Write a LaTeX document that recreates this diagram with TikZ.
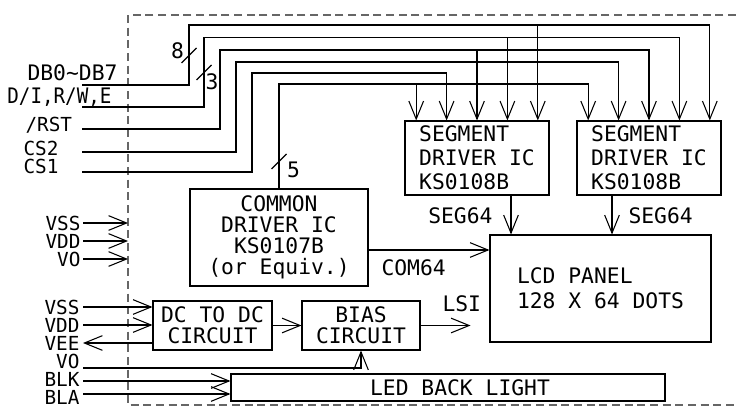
\documentclass[tikz,border=0pt]{standalone}
\usepackage{fontspec}
\setmonofont{DejaVu Sans Mono}
\usetikzlibrary{arrows.meta,calc}

\begin{document}
\begin{tikzpicture}[
  x=0.75pt, y=-0.75pt,
  font=\ttfamily\fontsize{16}{18}\selectfont,
  line width=0.8pt,
  blk/.style={draw, inner sep=0pt, align=center},
  segbox/.style={blk, align=left, minimum width=108pt, minimum height=55.5pt},
  tight/.style={font=\ttfamily\fontsize{16}{15.6}\selectfont},
  sig/.style={-{Straight Barb[length=13.5pt, width=11pt]}},
  lab/.style={inner sep=0pt},
  pwr/.style={lab, font=\ttfamily\fontsize{14.5}{15}\selectfont},
  module/.style={black!60, dash pattern=on 6pt off 3.5pt},
]
\useasboundingbox (0,0) rectangle (736,407);
\draw[module] (736,15) -- (128,15) -- (128,405) -- (736,405);
\coordinate (mod) at (128,15);
% blocks
\node[segbox] (segl) at (477,158) {SEGMENT\\DRIVER IC\\KS0108B};
\node[segbox] (segr) at (649,158) {SEGMENT\\DRIVER IC\\KS0108B};
\node[blk, align=left, minimum width=165.75pt, minimum height=80.25pt] (lcd) at (600.5,288.5) {LCD PANEL\\[0.5pt]128 X 64 DOTS};
\node[blk, tight, minimum width=133.5pt, minimum height=72.75pt] (common) at (279,237.5) {COMMON\\DRIVER IC\\KS0107B\\(or Equiv.)};
\node[blk, tight, minimum width=89.25pt, minimum height=36.75pt] (dc) at (212.5,325.5) {DC TO DC\\CIRCUIT};
\node[blk, tight, minimum width=88.5pt, minimum height=36.75pt] (bias) at (361,325.5) {BIAS\\CIRCUIT};
\node[blk, minimum width=325.5pt, minimum height=20.25pt] (led) at (448,387.5) {\hspace{18pt}LED BACK LIGHT};
\foreach \s in {segl,segr}
  \foreach \j in {1,...,5}
    \coordinate (\s-\j) at ([xshift={(\j-3)*22.8pt}]\s.north);
% bus inputs
\node[lab, anchor=base east] (dbl) at (118,80) {DB0\textasciitilde DB7};
\node[lab, anchor=base east] (ctl) at (112,103) {\addfontfeatures{FakeStretch=0.9}D/I,R/W,E};
\node[pwr, anchor=base west] (rst) at (25,131) {/RST};
\node[pwr, anchor=base west] (cstwo) at (23,155) {CS2};
\node[pwr, anchor=base west] (csone) at (23,173) {CS1};
\coordinate (dbin) at (82,85);   \coordinate (dbtop) at (189,25);
\coordinate (ctlin) at (82,107); \coordinate (ctltop) at (204,37.7);
\coordinate (rstin) at (82,129); \coordinate (rsttop) at (220,50);
\coordinate (cs2in) at (82,152); \coordinate (cs2top) at (236,62);
\coordinate (cs1in) at (82,172); \coordinate (cs1top) at (252,73);
\coordinate (comtop) at (279,84);
\draw[sig] (dbin) -| (dbtop) -| (segr-5);
\draw[sig] (segl-5 |- dbtop) -- (segl-5);
\draw[sig] (ctlin) -| (ctltop) -| (segr-4);
\draw[sig] (segl-4 |- ctltop) -- (segl-4);
\draw[sig] (rstin) -| (rsttop) -| (segr-3);
\draw[sig] (segl-3 |- rsttop) -- (segl-3);
\draw[sig] (cs2in) -| (cs2top) -| (segr-2);
\draw[sig] (cs1in) -| (cs1top) -| (segl-2);
\draw[sig] (common.north) -- (comtop) -| (segr-1);
\draw[sig] (segl-1 |- comtop) -- (segl-1);
% bus widths
\coordinate (m8) at (189,55.5);
\coordinate (m3) at (204,72.5);
\coordinate (m5) at (279,161.5);
\foreach \m/\t/\dx/\dy in {m8/8/-11.5/-5, m3/3/8/9, m5/5/14.5/8.5} {
  \draw ($(\m)+(-7.5,7.5)$) -- ($(\m)+(7.5,-7.5)$);
  \node[lab] (n\t) at ($(\m)+(\dx,\dy)$) {\t};
}
% panel outputs
\coordinate (sl) at ($(segl.south)+(34,0)$);
\coordinate (sr) at ($(segr.south)+(-37,0)$);
\draw[sig] (sl) -- (sl |- lcd.north);
\draw[sig] (sr) -- (sr |- lcd.north);
\node[lab, anchor=base east] (segll) at (493,223) {SEG64};
\node[lab, anchor=base west] (segrl) at (628,223) {SEG64};
\coordinate (comout) at ($(common.east)+(0,12.5)$);
\draw[sig] (comout) -- (comout -| lcd.west);
\node[lab, anchor=base west] (com64) at (381,275) {COM64};
% power
\node[pwr, anchor=east] (vssa) at (81,223) {VSS};
\node[pwr, anchor=east] (vdda) at (81,241) {VDD};
\node[pwr, anchor=east] (voa) at (81,259) {VO};
\foreach \p in {vssa,vdda,voa}
  \draw[sig] ([xshift=1.5pt]\p.east) -- (\p.east -| mod);
\node[pwr, anchor=base east] (vssb) at (80,314) {VSS};
\node[pwr, anchor=base east] (vddb) at (80,332) {VDD};
\node[pwr, anchor=base east] (veeb) at (80,350) {VEE};
\node[pwr, anchor=base east] (vob) at (80,368) {VO};
\node[pwr, anchor=base east] (blk) at (80,386) {BLK};
\node[pwr, anchor=base east] (bla) at (80,404) {BLA};
\coordinate (vssin) at (83,307);
\coordinate (vddin) at (83,325);
\coordinate (veeout) at (83,343);
\coordinate (voin) at (83,368);
\coordinate (blkin) at (83,381);
\coordinate (blain) at (83,394);
\draw[sig] (vssin) -- (vssin -| dc.west);
\draw[sig] (vddin) -- (vddin -| dc.west);
\draw[sig] (veeout -| dc.west) -- (veeout);
\draw[sig] (voin) -| (bias.south);
\draw[sig] (blkin) -- (blkin -| led.west);
\draw[sig] (blain) -- (blain -| led.west);
\draw[sig] (dc) -- (bias);
\coordinate (lsiend) at ($(bias.east)+(50,0)$);
\draw[sig] (bias.east) -- (lsiend);
\node[lab, anchor=base west] (lsi) at (442,311) {LSI};
\end{tikzpicture}
\end{document}
